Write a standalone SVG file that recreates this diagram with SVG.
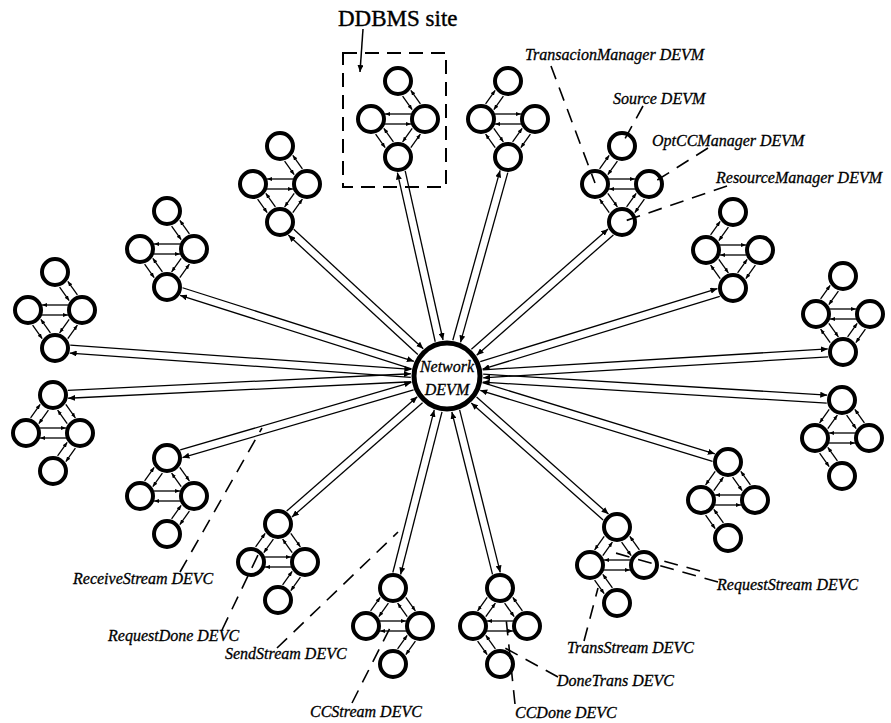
<svg xmlns="http://www.w3.org/2000/svg" xmlns:xlink="http://www.w3.org/1999/xlink" width="891" height="723" viewBox="0 0 891 723">
<style>
.n{fill:#fff;stroke:#000;stroke-width:4}
.c{fill:#fff;stroke:#000;stroke-width:5}
.a{stroke:#000;stroke-width:1.3;fill:none;marker-end:url(#ah)}
.b{stroke:#000;stroke-width:1.3;fill:none;marker-end:url(#ah2)}
.d{stroke:#000;stroke-width:1.6;fill:none;stroke-dasharray:14 9}
.bx{stroke:#000;stroke-width:2;fill:none;stroke-dasharray:14 8}
.lb{font-family:"Liberation Serif",serif;font-style:italic;font-size:16px;fill:#000;stroke:#000;stroke-width:0.3}
.t{font-family:"Liberation Serif",serif;font-size:23px;fill:#000;stroke:#000;stroke-width:0.4}
</style>
<defs>
<marker id="ah" markerUnits="userSpaceOnUse" markerWidth="7" markerHeight="6" refX="7" refY="3" orient="auto"><path d="M0,0 L7,3 L0,6 Z" fill="#000"/></marker>
<marker id="ah2" markerUnits="userSpaceOnUse" markerWidth="5" markerHeight="4" refX="5" refY="2" orient="auto"><path d="M0,0 L5,2 L0,4 Z" fill="#000"/></marker>
<g id="lk">
<line class="b" x1="4.6" y1="-60.9" x2="14.2" y2="-47.3"/>
<line class="b" x1="22.4" y1="-53.1" x2="12.8" y2="-66.7"/>
<line class="b" x1="-13" y1="-33" x2="13" y2="-33"/>
<line class="b" x1="13" y1="-43" x2="-13" y2="-43"/>
<line class="b" x1="-22.4" y1="-22.9" x2="-12.8" y2="-9.3"/>
<line class="b" x1="-4.6" y1="-15.1" x2="-14.2" y2="-28.7"/>
<line class="b" x1="14.2" y1="-28.7" x2="4.6" y2="-15.1"/>
<line class="b" x1="12.8" y1="-9.3" x2="22.4" y2="-22.9"/>
</g>
</defs>
<rect width="891" height="723" fill="#fff"/>

<g id="connectors">
<g transform="translate(447,376) rotate(-175.91)"><line class="a" x1="36" y1="-4" x2="378" y2="-4"/><line class="a" x1="378" y1="4" x2="36" y2="4"/></g>
<g transform="translate(447,376) rotate(-162.37)"><line class="a" x1="36" y1="-4" x2="278.8" y2="-4"/><line class="a" x1="278.8" y1="4" x2="36" y2="4"/></g>
<g transform="translate(447,376) rotate(-137.32)"><line class="a" x1="36" y1="-4" x2="212.2" y2="-4"/><line class="a" x1="212.2" y1="4" x2="36" y2="4"/></g>
<g transform="translate(447,376) rotate(-102.61)"><line class="a" x1="36" y1="-4" x2="209.4" y2="-4"/><line class="a" x1="209.4" y1="4" x2="36" y2="4"/></g>
<g transform="translate(447,376) rotate(-74.44)"><line class="a" x1="36" y1="-4" x2="212.3" y2="-4"/><line class="a" x1="212.3" y1="4" x2="36" y2="4"/></g>
<g transform="translate(447,376) rotate(-41.35)"><line class="a" x1="36" y1="-4" x2="218.1" y2="-4"/><line class="a" x1="218.1" y1="4" x2="36" y2="4"/></g>
<g transform="translate(447,376) rotate(-17.10)"><line class="a" x1="36" y1="-4" x2="284.2" y2="-4"/><line class="a" x1="284.2" y1="4" x2="36" y2="4"/></g>
<g transform="translate(447,376) rotate(-3.47)"><line class="a" x1="36" y1="-4" x2="381.7" y2="-4"/><line class="a" x1="381.7" y1="4" x2="36" y2="4"/></g>
<g transform="translate(447,376) rotate(3.48)"><line class="a" x1="36" y1="-4" x2="380.7" y2="-4"/><line class="a" x1="380.7" y1="4" x2="36" y2="4"/></g>
<g transform="translate(447,376) rotate(17.02)"><line class="a" x1="36" y1="-4" x2="278.9" y2="-4"/><line class="a" x1="278.9" y1="4" x2="36" y2="4"/></g>
<g transform="translate(447,376) rotate(41.61)"><line class="a" x1="36" y1="-4" x2="212.4" y2="-4"/><line class="a" x1="212.4" y1="4" x2="36" y2="4"/></g>
<g transform="translate(447,376) rotate(75.96)"><line class="a" x1="36" y1="-4" x2="203.5" y2="-4"/><line class="a" x1="203.5" y1="4" x2="36" y2="4"/></g>
<g transform="translate(447,376) rotate(104.29)"><line class="a" x1="36" y1="-4" x2="203.8" y2="-4"/><line class="a" x1="203.8" y1="4" x2="36" y2="4"/></g>
<g transform="translate(447,376) rotate(138.79)"><line class="a" x1="36" y1="-4" x2="209.6" y2="-4"/><line class="a" x1="209.6" y1="4" x2="36" y2="4"/></g>
<g transform="translate(447,376) rotate(163.68)"><line class="a" x1="36" y1="-4" x2="276.8" y2="-4"/><line class="a" x1="276.8" y1="4" x2="36" y2="4"/></g>
<g transform="translate(447,376) rotate(177.24)"><line class="a" x1="36" y1="-4" x2="379.5" y2="-4"/><line class="a" x1="379.5" y1="4" x2="36" y2="4"/></g>
</g>

<g id="network">
<circle class="c" cx="447" cy="376" r="33"/>
<text class="lb" x="447" y="372" text-anchor="middle" font-size="15">Network</text>
<text class="lb" x="447" y="395" text-anchor="middle" font-size="15">DEVM</text>
</g>

<g id="site1" transform="translate(55,348)"><use xlink:href="#lk"/><circle class="n" cx="0" cy="-76" r="13"/><circle class="n" cx="-27" cy="-38" r="13"/><circle class="n" cx="27" cy="-38" r="13"/><circle class="n" cx="0" cy="0" r="13"/></g>
<g id="site2" transform="translate(167,287)"><use xlink:href="#lk"/><circle class="n" cx="0" cy="-76" r="13"/><circle class="n" cx="-27" cy="-38" r="13"/><circle class="n" cx="27" cy="-38" r="13"/><circle class="n" cx="0" cy="0" r="13"/></g>
<g id="site3" transform="translate(280,222)"><use xlink:href="#lk"/><circle class="n" cx="0" cy="-76" r="13"/><circle class="n" cx="-27" cy="-38" r="13"/><circle class="n" cx="27" cy="-38" r="13"/><circle class="n" cx="0" cy="0" r="13"/></g>
<g id="site4-ddbms" transform="translate(398,157)"><use xlink:href="#lk"/><circle class="n" cx="0" cy="-76" r="13"/><circle class="n" cx="-27" cy="-38" r="13"/><circle class="n" cx="27" cy="-38" r="13"/><circle class="n" cx="0" cy="0" r="13"/></g>
<g id="site5" transform="translate(508,157) scale(-1,1)"><use xlink:href="#lk"/><circle class="n" cx="0" cy="-76" r="13"/><circle class="n" cx="-27" cy="-38" r="13"/><circle class="n" cx="27" cy="-38" r="13"/><circle class="n" cx="0" cy="0" r="13"/></g>
<g id="site6-tm" transform="translate(622,222) scale(-1,1)"><use xlink:href="#lk"/><circle class="n" cx="0" cy="-76" r="13"/><circle class="n" cx="-27" cy="-38" r="13"/><circle class="n" cx="27" cy="-38" r="13"/><circle class="n" cx="0" cy="0" r="13"/></g>
<g id="site7" transform="translate(733,288) scale(-1,1)"><use xlink:href="#lk"/><circle class="n" cx="0" cy="-76" r="13"/><circle class="n" cx="-27" cy="-38" r="13"/><circle class="n" cx="27" cy="-38" r="13"/><circle class="n" cx="0" cy="0" r="13"/></g>
<g id="site8" transform="translate(843,352) scale(-1,1)"><use xlink:href="#lk"/><circle class="n" cx="0" cy="-76" r="13"/><circle class="n" cx="-27" cy="-38" r="13"/><circle class="n" cx="27" cy="-38" r="13"/><circle class="n" cx="0" cy="0" r="13"/></g>
<g id="site9" transform="translate(842,400) scale(-1,-1)"><use xlink:href="#lk"/><circle class="n" cx="0" cy="-76" r="13"/><circle class="n" cx="-27" cy="-38" r="13"/><circle class="n" cx="27" cy="-38" r="13"/><circle class="n" cx="0" cy="0" r="13"/></g>
<g id="site10" transform="translate(728,462) scale(-1,-1)"><use xlink:href="#lk"/><circle class="n" cx="0" cy="-76" r="13"/><circle class="n" cx="-27" cy="-38" r="13"/><circle class="n" cx="27" cy="-38" r="13"/><circle class="n" cx="0" cy="0" r="13"/></g>
<g id="site11" transform="translate(617,527) scale(-1,-1)"><use xlink:href="#lk"/><circle class="n" cx="0" cy="-76" r="13"/><circle class="n" cx="-27" cy="-38" r="13"/><circle class="n" cx="27" cy="-38" r="13"/><circle class="n" cx="0" cy="0" r="13"/></g>
<g id="site12" transform="translate(500,588) scale(-1,-1)"><use xlink:href="#lk"/><circle class="n" cx="0" cy="-76" r="13"/><circle class="n" cx="-27" cy="-38" r="13"/><circle class="n" cx="27" cy="-38" r="13"/><circle class="n" cx="0" cy="0" r="13"/></g>
<g id="site13" transform="translate(393,588) scale(1,-1)"><use xlink:href="#lk"/><circle class="n" cx="0" cy="-76" r="13"/><circle class="n" cx="-27" cy="-38" r="13"/><circle class="n" cx="27" cy="-38" r="13"/><circle class="n" cx="0" cy="0" r="13"/></g>
<g id="site14" transform="translate(278,524) scale(1,-1)"><use xlink:href="#lk"/><circle class="n" cx="0" cy="-76" r="13"/><circle class="n" cx="-27" cy="-38" r="13"/><circle class="n" cx="27" cy="-38" r="13"/><circle class="n" cx="0" cy="0" r="13"/></g>
<g id="site15" transform="translate(167,458) scale(1,-1)"><use xlink:href="#lk"/><circle class="n" cx="0" cy="-76" r="13"/><circle class="n" cx="-27" cy="-38" r="13"/><circle class="n" cx="27" cy="-38" r="13"/><circle class="n" cx="0" cy="0" r="13"/></g>
<g id="site16" transform="translate(53,395) scale(1,-1)"><use xlink:href="#lk"/><circle class="n" cx="0" cy="-76" r="13"/><circle class="n" cx="-27" cy="-38" r="13"/><circle class="n" cx="27" cy="-38" r="13"/><circle class="n" cx="0" cy="0" r="13"/></g>

<g id="ddbms-label">
<rect class="bx" x="343" y="53" width="103" height="134"/>
<text class="t" x="338" y="26">DDBMS site</text>
<line x1="363" y1="29" x2="360" y2="72" stroke="#000" stroke-width="1.5" marker-end="url(#ah)"/>
</g>

<g id="labels">
<line class="d" x1="551" y1="66" x2="595" y2="183"/>
<text class="lb" x="525" y="60">TransacionManager DEVM</text>
<line class="d" x1="643" y1="106" x2="621" y2="146"/>
<text class="lb" x="613" y="104">Source DEVM</text>
<line class="d" x1="708" y1="148" x2="651" y2="184"/>
<text class="lb" x="652" y="146">OptCCManager DEVM</text>
<line class="d" x1="727" y1="186" x2="622" y2="222"/>
<text class="lb" x="716" y="183">ResourceManager DEVM</text>
<line class="d" x1="180" y1="572" x2="262" y2="428"/>
<text class="lb" x="73" y="584">ReceiveStream DEVC</text>
<line class="d" x1="222" y1="630" x2="258" y2="555"/>
<text class="lb" x="108" y="641">RequestDone DEVC</text>
<line class="d" x1="277" y1="648" x2="398" y2="532"/>
<text class="lb" x="225" y="659">SendStream DEVC</text>
<line class="d" x1="352" y1="703" x2="390" y2="628"/>
<text class="lb" x="310" y="717">CCStream DEVC</text>
<line class="d" x1="515" y1="704" x2="506" y2="618"/>
<text class="lb" x="515" y="718">CCDone DEVC</text>
<line class="d" x1="558" y1="677" x2="505" y2="648"/>
<text class="lb" x="557" y="686">DoneTrans DEVC</text>
<line class="d" x1="584" y1="641" x2="598" y2="588"/>
<text class="lb" x="567" y="653">TransStream DEVC</text>
<line class="d" x1="718" y1="582" x2="612" y2="552"/>
<line class="d" x1="700" y1="571" x2="660" y2="560"/>
<text class="lb" x="717" y="590">RequestStream DEVC</text>
</g>
</svg>
